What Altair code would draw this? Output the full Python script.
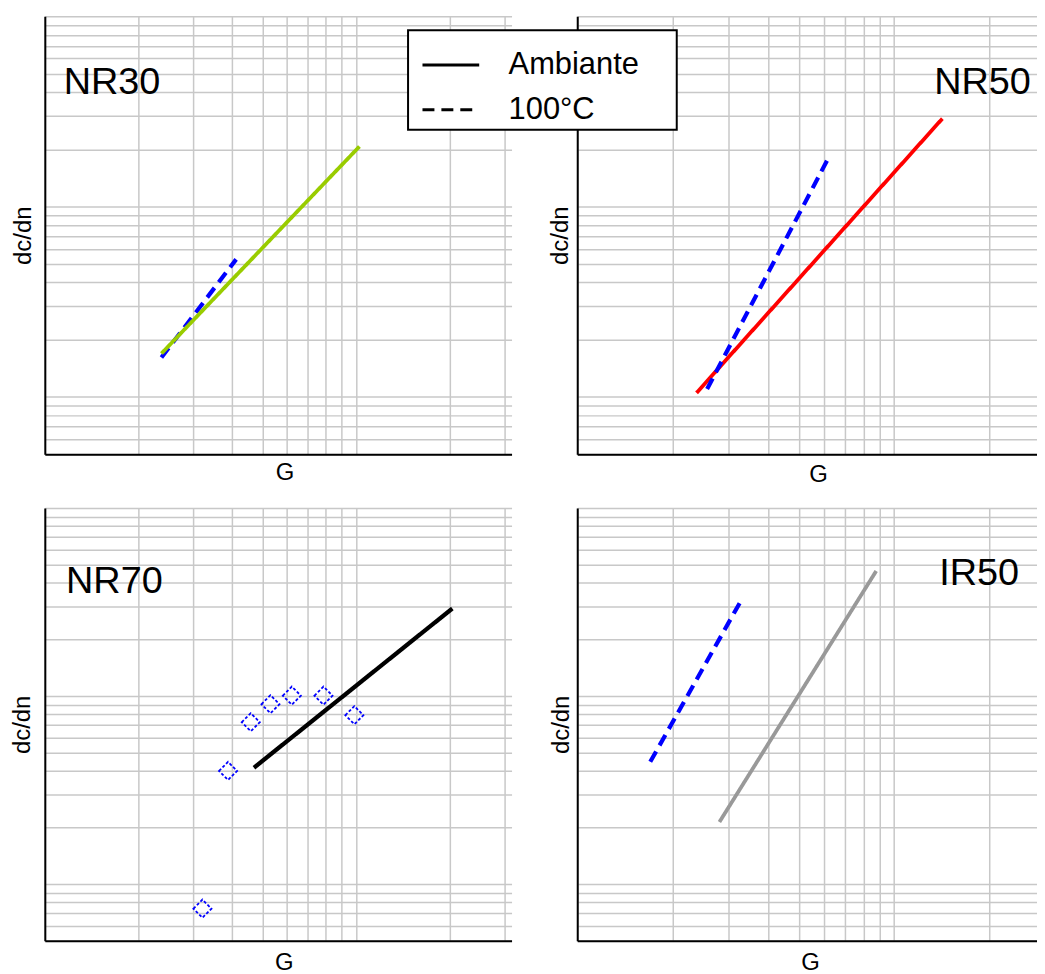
import altair as alt
import pandas as pd

FONT = "Liberation Sans"

# ---- data (G and dc/dn in relative log units) ----
conditions = ["Ambiante", "100°C"]

nr30_amb_g = [2.37, 10.26]
nr30_amb_v = [1.69, 20.7]
nr30_hot_g = [2.37, 4.12]
nr30_hot_v = [1.61, 5.28]

nr50_amb_g = [2.38, 14.2]
nr50_amb_v = [1.05, 29.0]
nr50_hot_g = [2.57, 6.28]
nr50_hot_v = [1.10, 18.7]

nr70_amb_g = [4.70, 20.4]
nr70_amb_v = [4.16, 29.2]
nr70_hot_g = [3.21, 3.88, 4.59, 5.31, 6.22, 7.86, 9.88]
nr70_hot_v = [0.741, 4.0, 7.26, 9.05, 10.05, 10.05, 7.91]

ir50_amb_g = [2.81, 8.78]
ir50_amb_v = [2.14, 46.2]
ir50_hot_g = [1.70, 3.31]
ir50_hot_v = [4.47, 32.8]

x_grid = [1, 2, 3, 4, 5, 6, 7, 8, 9, 10, 20, 30]
y_grid = [0.5, 0.6, 0.7, 0.8, 0.9, 1, 2, 3, 4, 5, 6, 7, 8, 9,
          10, 20, 30, 40, 50, 60, 70, 80, 90, 100]

PAD = "\u00a0" * 3 + "\u2009\u200b"
dash_scale = alt.Scale(domain=conditions, range=[[1, 0], [12, 7]])
legend = alt.Legend(
    orient="none", legendX=365, legendY=14, title=None,
    symbolType="stroke", symbolSize=3249, symbolStrokeWidth=3,
    symbolStrokeColor="black", symbolOffset=8,
    labelFont=FONT, labelFontSize=31,
    labelColor="black", labelOffset=28, rowPadding=0, padding=5,
    strokeColor="black", fillColor="white", labelLimit=0,
    labelExpr="datum.label + '" + PAD + "'",
)

TITLE = dict(titleFont=FONT, titleFontSize=24, titleFontWeight="normal",
             titleColor="black")


def panel(label, color, amb_g, amb_v, hot_g, hot_v, xmax, width, height,
          lab_g, lab_v, lab_align, ypad, xpad, xtitle_x,
          points=False, amb_w=3.8):
    x = alt.X("G:Q", scale=alt.Scale(type="log", domain=[1, xmax], nice=False),
              axis=alt.Axis(values=x_grid, title="G", labels=False, ticks=False,
                            titlePadding=xpad, titleX=xtitle_x, **TITLE))
    y = alt.Y("dcdn:Q", scale=alt.Scale(type="log", domain=[0.5, 100], nice=False),
              axis=alt.Axis(values=y_grid, title="dc/dn", labels=False,
                            ticks=False, titlePadding=ypad, **TITLE))
    sd = alt.StrokeDash("cond:N", scale=dash_scale, legend=legend)

    amb = pd.DataFrame({"G": amb_g, "dcdn": amb_v, "cond": conditions[0]})
    hot = pd.DataFrame({"G": hot_g, "dcdn": hot_v, "cond": conditions[1]})
    lab = pd.DataFrame({"G": [lab_g], "dcdn": [lab_v], "txt": [label]})

    amb_line = alt.Chart(amb).mark_line(color=color, strokeWidth=amb_w).encode(
        x=x, y=y, strokeDash=sd)
    if points:
        hot_layer = alt.Chart(hot).mark_point(
            shape="diamond", size=330, filled=False, color="#0000ff",
            strokeWidth=1.8, strokeDash=[3, 2], opacity=1).encode(x=x, y=y)
        layers = [amb_line, hot_layer]
    else:
        hot_layer = alt.Chart(hot).mark_line(
            color="#0000ff", strokeWidth=4.2).encode(x=x, y=y, strokeDash=sd)
        layers = [hot_layer, amb_line] if label == "NR30" else [amb_line, hot_layer]
    text = alt.Chart(lab).mark_text(
        font=FONT, fontSize=38, color="black", align=lab_align,
        baseline="alphabetic").encode(x=x, y=y, text="txt:N")
    return alt.layer(*layers, text).properties(width=width, height=height)


p1 = panel("NR30", "#99cc00", nr30_amb_g, nr30_amb_v, nr30_hot_g, nr30_hot_v,
           31.62, 469, 440, 1.15, 39.1, "left", 9, 6, 241)
p2 = panel("NR50", "#ff0000", nr50_amb_g, nr50_amb_v, nr50_hot_g, nr50_hot_v,
           28.25, 462, 440, 27.0, 39.1, "right", 5, 8, 242)
p3 = panel("NR70", "#000000", nr70_amb_g, nr70_amb_v, nr70_hot_g, nr70_hot_v,
           31.62, 469, 435, 1.17, 35.1, "left", 10, 10, 240,
           points=True, amb_w=4.3)
p4 = panel("IR50", "#999999", ir50_amb_g, ir50_amb_v, ir50_hot_g, ir50_hot_v,
           28.25, 462, 435, 24.8, 38.8, "right", 4, 10, 234)

chart = alt.concat(
    p1, p2, p3, p4, columns=2, bounds="flush",
    spacing={"row": 54, "column": 66},
).resolve_scale(
    x="independent", y="independent", strokeDash="shared"
).properties(
    padding={"top": 6, "left": 3, "right": 0, "bottom": 0}
).configure_view(stroke=None).configure_axis(
    domainColor="black", domainWidth=2, gridColor="#c8c8c8", gridWidth=1.5,
).configure_legend(strokeWidth=2)

chart.save("out.html", embed_options={"renderer": "svg", "actions": False})
